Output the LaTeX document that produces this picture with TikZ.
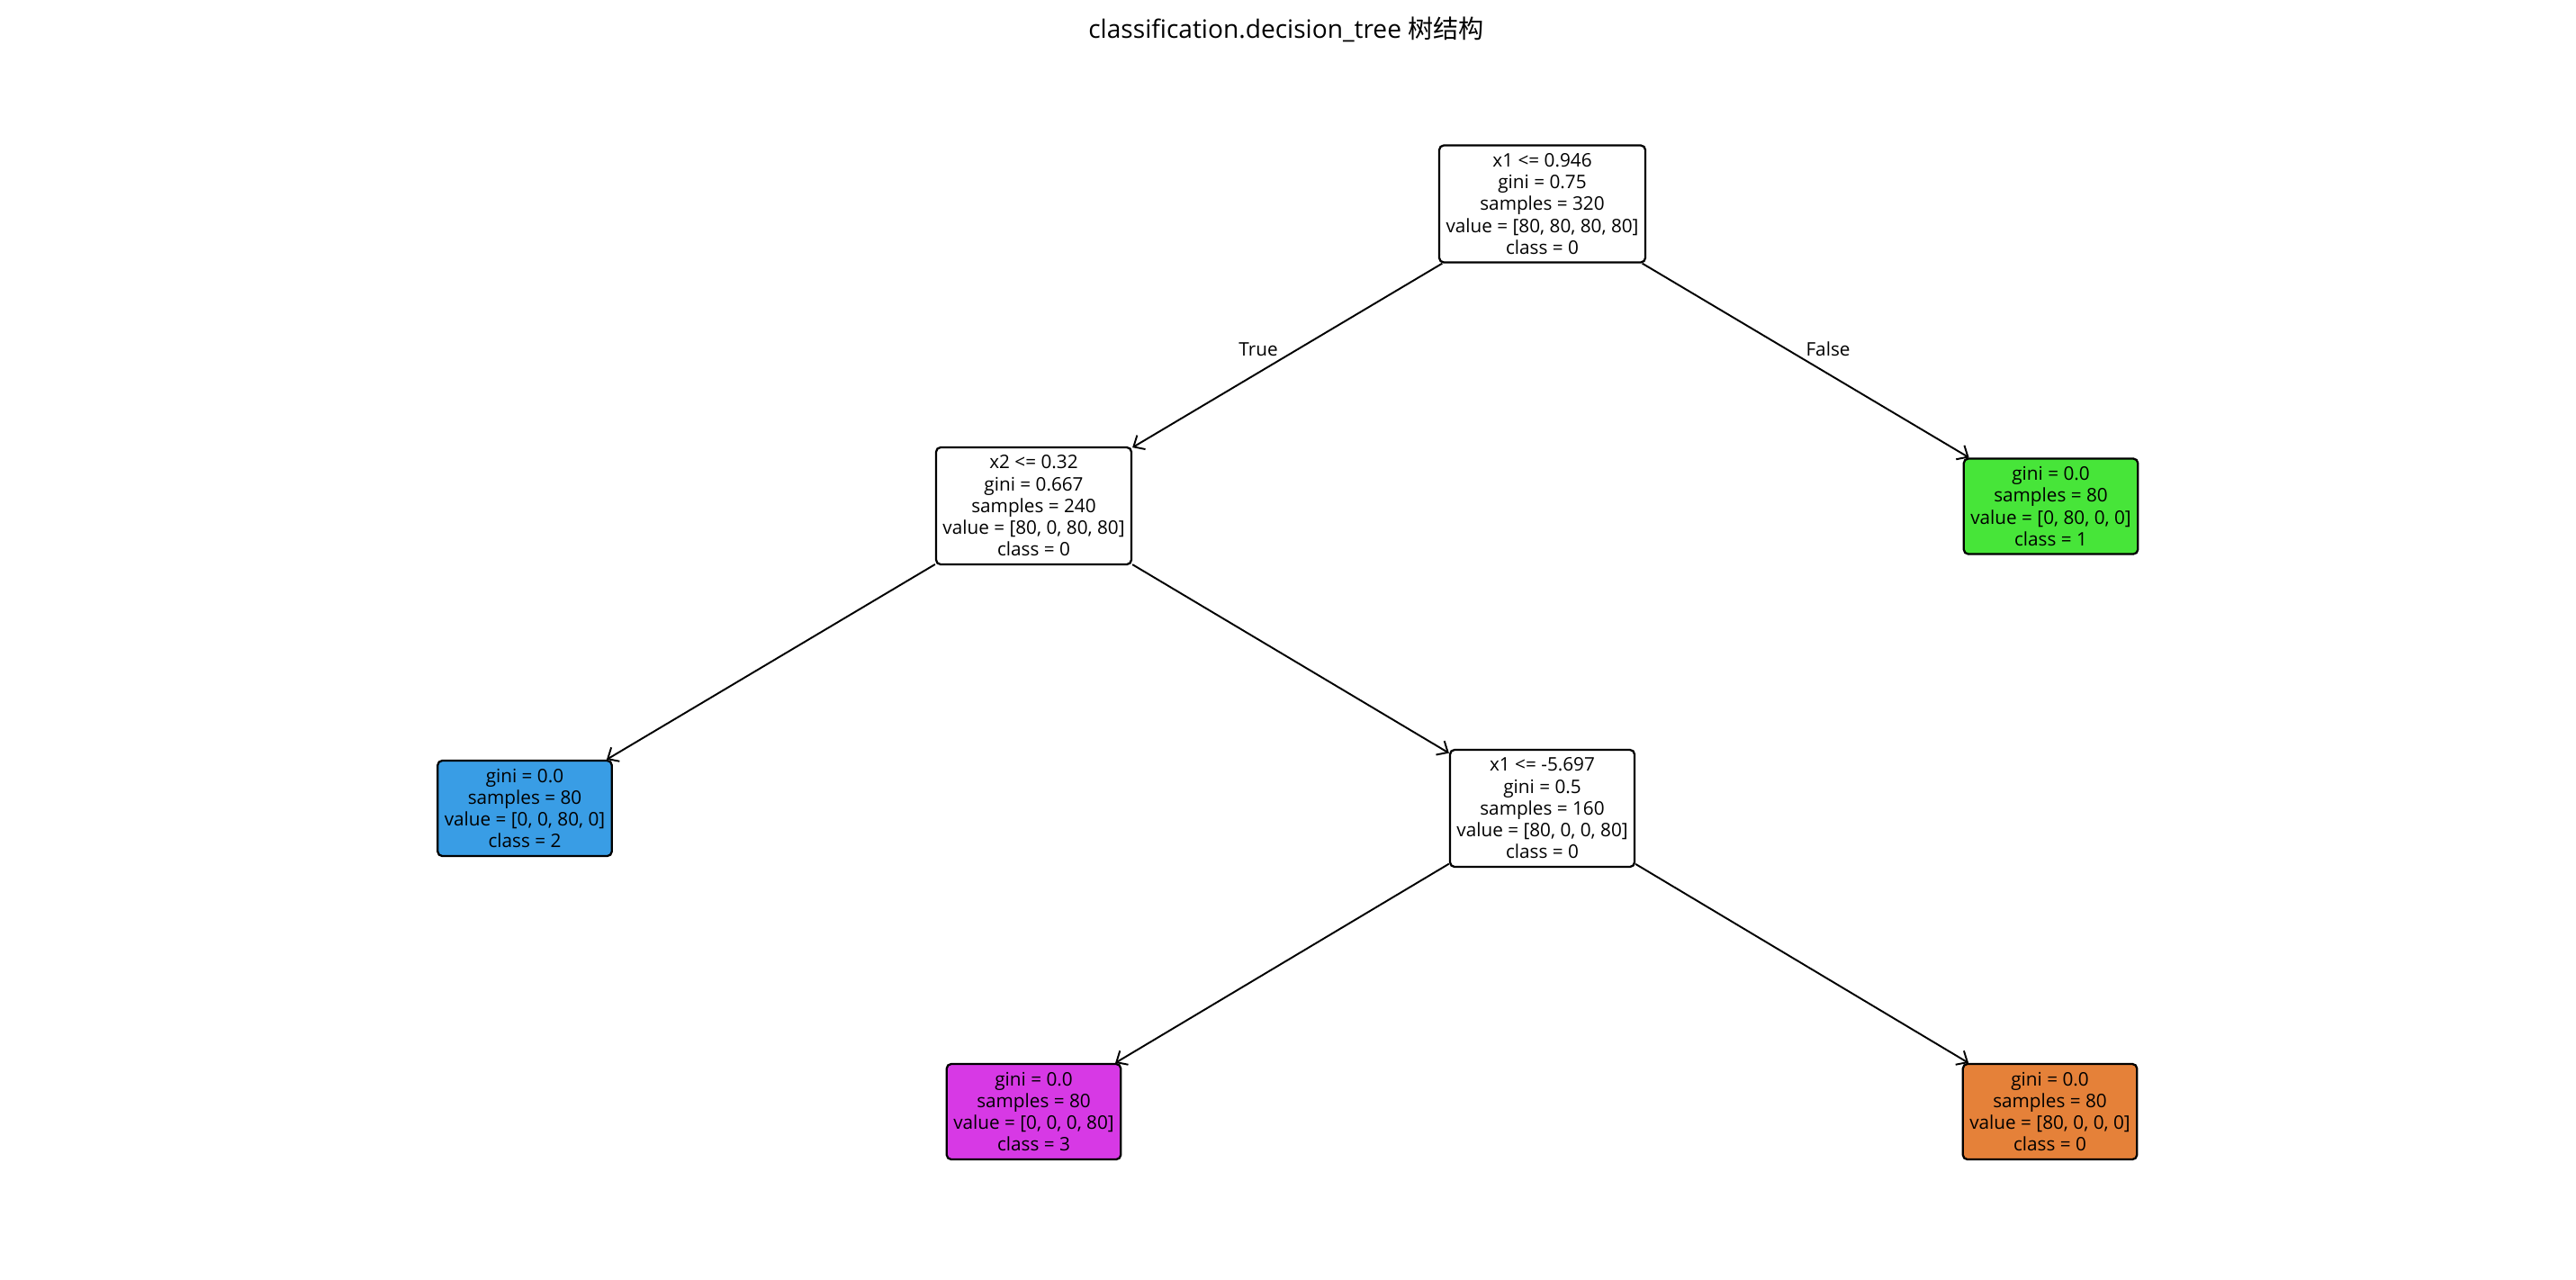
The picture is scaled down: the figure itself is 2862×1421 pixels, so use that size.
\documentclass[tikz,border=0pt]{standalone}
\usepackage{fontspec}
\setmainfont{Open Sans}
\newfontfamily\cjk{Noto Sans CJK SC}
\usetikzlibrary{arrows.meta}

\definecolor{classzero}{HTML}{E58139}
\definecolor{classone}{HTML}{47E539}
\definecolor{classtwo}{HTML}{399DE5}
\definecolor{classthree}{HTML}{D739E5}

\tikzset{
  treenode/.style={draw, line width=1.3pt, rounded corners=0.1cm, fill=white,
    align=center, inner sep=0pt, font=\fontsize{11.8}{13.8}\selectfont},
  splitnode/.style={treenode, minimum height=2.6cm},
  leafnode/.style={treenode, minimum width=3.87cm, minimum height=2.12cm},
  branch/.style={line width=1.1pt, -{Straight Barb[length=2mm, width=3.6mm]}},
  branchlabel/.style={font=\fontsize{11.8}{13}\selectfont}
}

\begin{document}
\begin{tikzpicture}[x=0.02cm, y=-0.02cm]
  \useasboundingbox (0,0) rectangle (2862,1421);

  \node[font=\fontsize{16}{18}\selectfont] (title) at (1429,33) {classification.decision\_tree {\cjk 树结构}};

  % splits
  \node[splitnode, minimum width=4.58cm] (root) at (1713.5,226.5)
    {x1 <= 0.946\\gini = 0.75\\samples = 320\\value = [80, 80, 80, 80]\\class = 0};
  \node[splitnode, minimum width=4.34cm] (xtwo) at (1148.5,562)
    {x2 <= 0.32\\gini = 0.667\\samples = 240\\value = [80, 0, 80, 80]\\class = 0};
  \node[splitnode, minimum width=4.1cm] (xone) at (1713.5,898)
    {x1 <= -5.697\\gini = 0.5\\samples = 160\\value = [80, 0, 0, 80]\\class = 0};

  % leaves
  \node[leafnode, fill=classone] (leafone) at (2278.5,562.5)
    {gini = 0.0\\samples = 80\\value = [0, 80, 0, 0]\\class = 1};
  \node[leafnode, fill=classtwo] (leaftwo) at (583,898)
    {gini = 0.0\\samples = 80\\value = [0, 0, 80, 0]\\class = 2};
  \node[leafnode, fill=classthree] (leafthree) at (1148.5,1235)
    {gini = 0.0\\samples = 80\\value = [0, 0, 0, 80]\\class = 3};
  \node[leafnode, fill=classzero] (leafzero) at (2277.5,1235)
    {gini = 0.0\\samples = 80\\value = [80, 0, 0, 0]\\class = 0};

  % edges
  \draw[branch] (root) -- (xtwo);
  \draw[branch] (root) -- (leafone);
  \draw[branch] (xtwo) -- (leaftwo);
  \draw[branch] (xtwo) -- (xone);
  \draw[branch] (xone) -- (leafthree);
  \draw[branch] (xone) -- (leafzero);

  \node[branchlabel] (truelabel) at (1398,388) {True};
  \node[branchlabel] (falselabel) at (2031,388) {False};
\end{tikzpicture}
\end{document}
